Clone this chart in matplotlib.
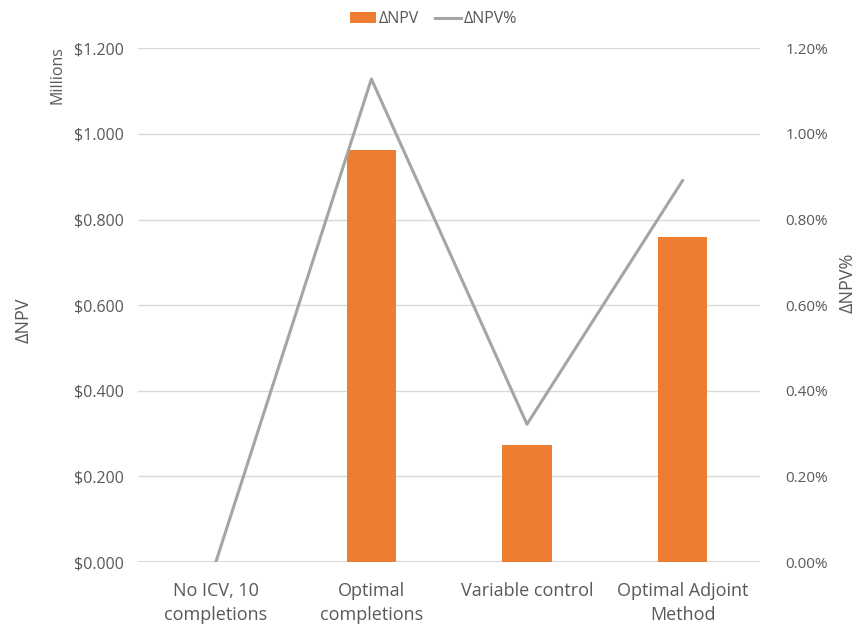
import numpy as np
import matplotlib.pyplot as plt
from matplotlib.ticker import FuncFormatter

plt.rcParams['font.family'] = ['Open Sans', 'DejaVu Sans']

##Datos
categorias = ['No ICV, 10\ncompletions', 'Optimal\ncompletions',
              'Variable control', 'Optimal Adjoint\nMethod']
delta_npv = [0.0, 0.963, 0.274, 0.760]          # millones de $
delta_npv_pct = [0.0, 1.128, 0.322, 0.891]      # %

gris_texto = '#595959'
naranja = '#ED7D31'
gris_linea = '#A5A5A5'

fig = plt.figure(figsize=(8.68, 6.26), dpi=100)
ax = fig.add_axes([0.159, 0.102, 0.717, 0.821])
ax2 = ax.twinx()

x = np.arange(len(categorias))
ax.bar(x, delta_npv, width=0.32, color=naranja, zorder=3, label='ΔNPV')
ax2.plot(x, delta_npv_pct, color=gris_linea, lw=2.2, zorder=4, label='ΔNPV%')

##Ejes
ax.set_xlim(-0.5, 3.5)
ax.set_ylim(0, 1.2)
ax2.set_ylim(0, 1.2)
ax.set_yticks(np.arange(0, 1.21, 0.2))
ax2.set_yticks(np.arange(0, 1.21, 0.2))
ax.yaxis.set_major_formatter(FuncFormatter(lambda v, p: '${:.3f}'.format(v)))
ax2.yaxis.set_major_formatter(FuncFormatter(lambda v, p: '{:.2f}%'.format(v)))
ax.set_xticks(x)
ax.set_xticklabels(categorias, linespacing=1.45)

ax.grid(axis='y', color='#D9D9D9', lw=1, zorder=0)
ax.set_axisbelow(True)
for a in (ax, ax2):
    for s in a.spines.values():
        s.set_visible(False)
    a.tick_params(length=0, colors=gris_texto, labelsize=11.5)
ax2.tick_params(axis='y', labelsize=11)
ax.tick_params(axis='x', pad=14, labelsize=13)
ax.tick_params(axis='y', pad=10)
ax2.tick_params(axis='y', pad=18)
ax.axhline(0, color='#D9D9D9', lw=1.5, zorder=1)

ax.set_ylabel('ΔNPV', color=gris_texto, fontsize=13)
ax.yaxis.set_label_coords(-0.17, 0.47)
ax2.set_ylabel('ΔNPV%', color=gris_texto, fontsize=13)
ax2.yaxis.set_label_coords(1.125, 0.543)
fig.text(0.066, 0.926, 'Millions', rotation=90, ha='center', va='top',
         color=gris_texto, fontsize=11.5)

##Leyenda
h1, l1 = ax.get_legend_handles_labels()
h2, l2 = ax2.get_legend_handles_labels()
fig.legend(h1 + h2, l1 + l2, loc='upper center', bbox_to_anchor=(0.5, 1.005),
           ncol=2, frameon=False, fontsize=11.5, labelcolor=gris_texto,
           handlelength=1.6, handletextpad=0.2, columnspacing=1.0)

plt.savefig('out.png', dpi=100)
plt.close()
